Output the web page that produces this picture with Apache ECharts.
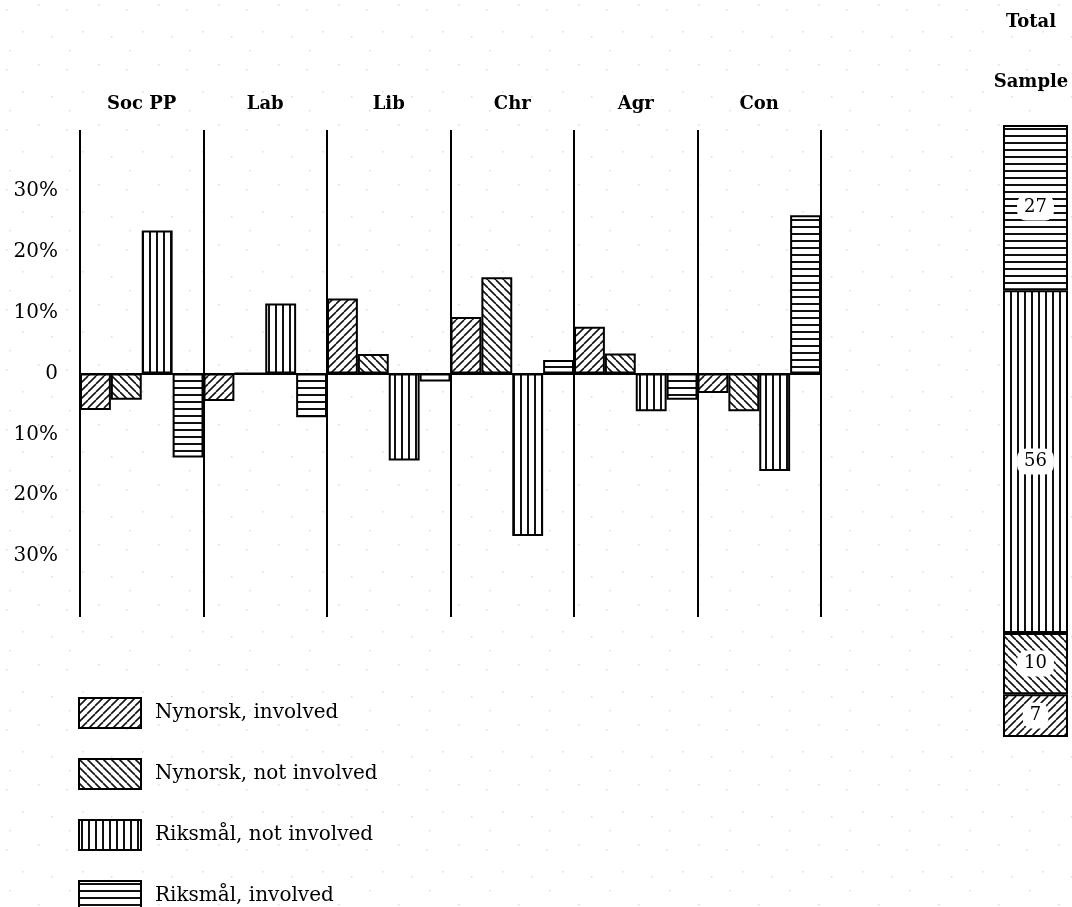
<!DOCTYPE html>
<html>
<head>
<meta charset="utf-8">
<script src="https://cdn.jsdelivr.net/npm/echarts@6/dist/echarts.min.js"></script>
<style>
  html, body { margin: 0; padding: 0; background: #fff; }
  #chart { width: 1072px; height: 907px; }
</style>
</head>
<body>
<div id="chart"></div>
<script>
// ---- data ----
const parties = ['Soc PP', 'Lab', 'Lib', 'Chr', 'Agr', 'Con'];
const seriesNames = ['Nynorsk, involved', 'Nynorsk, not involved', 'Riksmål, not involved', 'Riksmål, involved'];
const nynorskInvolved    = [-6.0, -4.5, 12.3,   9.3,  7.7, -3.2];
const nynorskNotInvolved = [-4.3,  0.0,  3.2,  15.8,  3.3, -6.2];
const riksmalNotInvolved = [23.5, 11.5, -14.3, -26.7, -6.2, -16.0];
const riksmalInvolved    = [-13.8, -7.2, -1.3,  2.2, -4.3, 26.0];
const totalSample = [7, 10, 56, 27]; // same order as seriesNames, bottom to top
const yTicks = [-40, -30, -20, -10, 0, 10, 20, 30, 40];

// ---- patterns ----
function makeTile(w, h, draw) {
  const c = document.createElement('canvas');
  c.width = w; c.height = h;
  const g = c.getContext('2d');
  g.fillStyle = '#fff'; g.fillRect(0, 0, w, h);
  g.strokeStyle = '#111';
  draw(g, w, h);
  return c;
}
const patUp = makeTile(8, 8, (g, w, h) => {
  g.lineWidth = 1.6;
  for (const o of [-w, 0, w]) { g.beginPath(); g.moveTo(o, h); g.lineTo(o + w, 0); g.stroke(); }
});
const patDown = makeTile(8, 8, (g, w, h) => {
  g.lineWidth = 1.6;
  for (const o of [-w, 0, w]) { g.beginPath(); g.moveTo(o, 0); g.lineTo(o + w, h); g.stroke(); }
});
const patVert = makeTile(7, 7, (g, w, h) => {
  g.fillStyle = '#111'; g.fillRect(2, 0, 2, h);
});
const patHorz = makeTile(7, 7, (g, w, h) => {
  g.fillStyle = '#111'; g.fillRect(0, 2, w, 2);
});
const patterns = [patUp, patDown, patVert, patHorz].map(img => ({ image: img, repeat: 'repeat' }));

// background dots (scan texture)
(function () {
  const c = document.createElement('canvas');
  c.width = 60; c.height = 60;
  const g = c.getContext('2d');
  g.fillStyle = '#fff'; g.fillRect(0, 0, 60, 60);
  g.fillStyle = '#dcdcdc';
  [[6, 9], [38, 4], [22, 31], [51, 36], [9, 50]].forEach(p => g.fillRect(p[0], p[1], 1.5, 1.5));
  document.body.style.backgroundImage = 'url(' + c.toDataURL() + ')';
})();

const FONT = 'DejaVu Serif';
const mainData = [nynorskInvolved, nynorskNotInvolved, riksmalNotInvolved, riksmalInvolved];

const series = [];
mainData.forEach((d, i) => {
  series.push({
    name: seriesNames[i], type: 'bar', xAxisIndex: 0, yAxisIndex: 0,
    data: d, barGap: '0%', barCategoryGap: '0%',
    itemStyle: { color: patterns[i], borderColor: '#000', borderWidth: 2 },
    emphasis: { disabled: true }, silent: true
  });
});
totalSample.forEach((v, i) => {
  series.push({
    name: seriesNames[i], type: 'bar', xAxisIndex: 2, yAxisIndex: 1,
    stack: 'total', data: [v], barWidth: '100%',
    itemStyle: { color: patterns[i], borderColor: '#000', borderWidth: 2 },
    label: {
      show: true, position: 'inside', formatter: '{c}', color: '#000',
      fontFamily: FONT, fontSize: 18, backgroundColor: '#fff',
      padding: [4, 7], borderRadius: 9
    },
    emphasis: { disabled: true }, silent: true
  });
});

const chart = echarts.init(document.getElementById('chart'), null, { renderer: 'canvas' });
chart.setOption({
  backgroundColor: 'transparent',
  animation: false,
  grid: [
    { left: 80, right: 251, top: 130, bottom: 290 },
    { left: 1003, right: 4, top: 125, bottom: 170 }
  ],
  xAxis: [
    { type: 'category', gridIndex: 0, data: parties, position: 'bottom',
      axisLine: { show: true, onZero: true, lineStyle: { color: '#000', width: 2 } },
      axisTick: { show: false }, axisLabel: { show: false },
      splitLine: { show: true, lineStyle: { color: '#000', width: 2 } } },
    { type: 'category', gridIndex: 0, data: parties, position: 'top',
      axisLine: { show: false, onZero: false }, axisTick: { show: false },
      axisLabel: { show: true, margin: 17, color: '#000', fontFamily: FONT, fontWeight: 'bold', fontSize: 18 } },
    { type: 'category', gridIndex: 1, data: ['Total'], show: false }
  ],
  yAxis: [
    { type: 'value', gridIndex: 0, min: yTicks[0], max: yTicks[yTicks.length - 1], interval: 10,
      axisLine: { show: false }, axisTick: { show: false }, splitLine: { show: false },
      axisLabel: { margin: 22, color: '#000', fontFamily: FONT, fontSize: 20,
        formatter: v => v === 0 ? '0' : (Math.abs(v) === 40 ? '' : Math.abs(v) + '%') } },
    { type: 'value', gridIndex: 1, min: 0, max: 100, show: false }
  ],
  legend: {
    data: seriesNames, orient: 'vertical', left: 78, top: 697, padding: 0,
    width: 500, height: 260,
    itemWidth: 62, itemHeight: 30, itemGap: 29, icon: 'rect',
    selectedMode: false,
    itemStyle: { borderColor: '#000', borderWidth: 2 },
    textStyle: { color: '#000', fontFamily: FONT, fontSize: 20, padding: [0, 0, 0, 9] }
  },
  graphic: [
    { type: 'text', x: 1031, y: 22, style: { text: 'Total', fill: '#000', align: 'center', verticalAlign: 'middle', fontFamily: FONT, fontWeight: 'bold', fontSize: 18 } },
    { type: 'text', x: 1031, y: 82, style: { text: 'Sample', fill: '#000', align: 'center', verticalAlign: 'middle', fontFamily: FONT, fontWeight: 'bold', fontSize: 18 } }
  ],
  series: series
});
</script>
</body>
</html>
